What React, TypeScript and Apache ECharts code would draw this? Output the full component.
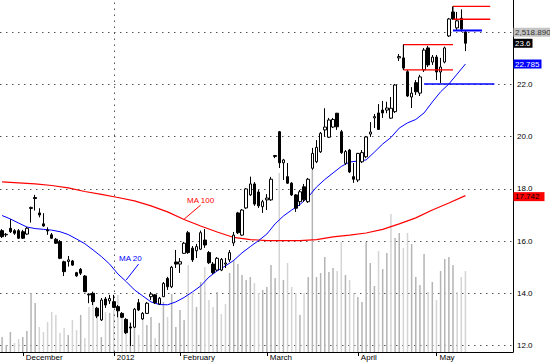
import React, { useEffect, useRef } from "react";
import * as echarts from "echarts";

// ---------- data ----------
const TOTAL_SLOTS = 124; // trading-day slots on the axis (data fills the first 113)
const categories = Array.from({ length: TOTAL_SLOTS }, (_, i) => `d${i}`);

const monthTicks = [
  { index: 5, label: "December" },
  { index: 27, label: "2012" },
  { index: 43, label: "February" },
  { index: 64, label: "March" },
  { index: 86, label: "April" },
  { index: 105, label: "May" },
];

// [open, close, low, high]
const ohlc = [
  [16.40,16.17,16.12,16.46],[16.24,16.26,16.16,16.31],[16.49,16.36,16.31,16.84],[16.40,16.30,16.24,16.46],
  [16.40,16.11,16.08,16.46],[16.36,16.11,16.08,16.43],[16.27,16.49,16.24,16.54],[17.25,17.29,16.71,17.32],
  [17.67,17.63,17.17,17.77],[17.08,17.00,16.91,17.26],[16.66,16.58,16.55,17.07],[16.43,16.39,16.24,16.53],
  [16.24,16.11,16.08,16.31],[16.07,15.92,15.89,16.12],[15.98,15.34,15.31,16.04],[15.21,14.83,14.66,15.25],
  [15.22,15.28,15.02,15.43],[15.24,15.08,15.05,15.28],[14.79,14.67,14.63,14.82],[14.92,14.77,14.70,14.97],
  [14.66,14.06,14.05,14.70],[13.97,13.94,13.62,14.00],[14.00,13.68,13.55,14.06],[13.43,13.13,13.05,13.48],
  [12.98,13.74,12.94,13.82],[13.78,13.55,13.44,13.86],[13.71,13.80,13.59,13.94],[13.68,13.46,13.44,13.94],
  [13.49,13.33,13.08,13.55],[13.23,13.08,13.05,13.28],[13.00,12.49,12.44,13.05],[12.71,12.67,11.98,12.86],
  [12.70,13.39,12.67,13.44],[13.64,13.36,13.32,13.78],[13.02,13.23,12.98,13.28],[13.23,13.62,13.21,13.67],
  [13.87,13.97,13.74,14.05],[13.94,13.64,13.59,13.97],[13.59,13.81,13.55,13.86],[13.87,14.38,13.86,14.43],
  [14.57,14.25,14.13,14.63],[14.25,15.00,14.20,15.05],[15.20,15.12,14.97,15.66],[15.12,15.21,14.78,15.35],
  [15.53,15.92,15.51,15.97],[16.32,15.56,15.51,16.39],[15.73,15.28,15.20,15.81],[15.63,15.79,15.35,15.89],
  [15.69,16.32,15.66,16.40],[16.04,15.85,15.74,16.46],[15.56,15.17,15.12,15.62],[15.12,14.79,14.74,15.20],
  [14.89,15.34,14.85,15.39],[14.89,15.30,14.85,15.35],[15.12,15.16,14.97,15.35],[15.28,15.56,15.20,15.66],
  [15.93,16.23,15.81,16.35],[17.08,16.32,16.27,17.12],[16.23,17.19,16.20,17.23],[17.27,18.00,17.23,18.03],
  [17.77,18.19,17.73,18.47],[18.19,17.42,17.35,18.26],[17.88,17.35,17.27,17.96],[17.32,17.51,17.08,17.58],
  [17.58,17.65,17.19,17.80],[17.58,18.37,17.54,18.46],[19.24,19.28,19.18,19.30],[20.19,19.00,18.80,20.22],
  [19.00,19.11,18.34,19.15],[18.47,18.22,18.19,18.99],[18.22,17.77,17.73,18.26],[17.77,17.26,17.12,17.80],
  [17.51,17.89,17.35,17.96],[18.08,17.58,17.50,18.19],[17.51,18.37,17.46,18.42],[18.79,19.36,18.73,19.57],
  [19.04,19.59,18.99,19.87],[19.42,20.13,19.38,20.18],[20.26,20.37,20.00,21.09],[19.98,20.64,19.95,20.72],
  [20.37,20.66,20.33,20.72],[20.90,20.38,20.26,20.91],[20.19,19.39,19.34,20.26],[18.98,19.43,18.92,19.49],
  [19.49,18.65,18.61,19.53],[18.47,18.37,18.23,18.99],[18.34,19.36,18.26,19.38],[19.04,19.39,18.99,19.49],
  [19.23,19.99,19.18,20.03],[20.10,20.18,19.99,20.56],[20.72,20.77,20.33,20.87],[20.91,20.28,20.26,21.25],
  [21.02,20.91,20.72,21.37],[21.02,21.10,20.90,21.34],[20.71,21.09,20.68,21.52],[20.96,21.98,20.91,22.02],
  [23.02,23.07,22.90,23.17],[23.02,22.63,22.56,23.53],[22.49,21.56,21.52,22.56],[21.52,21.67,21.10,21.90],
  [22.07,21.72,21.60,22.17],[21.67,22.29,21.56,22.37],[22.56,23.32,22.48,23.40],[23.40,22.75,22.67,23.48],
  [22.86,23.05,22.75,23.13],[23.05,22.48,22.17,23.13],[22.48,22.67,22.06,23.02],[22.86,23.40,22.81,23.45],
  [23.86,24.51,23.82,24.55],[24.78,24.51,24.49,24.99],[24.17,24.44,24.09,24.78],[24.54,24.12,24.02,24.88],
  [24.01,23.58,23.28,24.09],
];

// volume, thousands of shares
const volume = [
  150,70,200,90,130,150,210,590,490,250,200,300,400,370,190,240,170,320,220,370,
  140,450,540,440,150,400,390,420,570,350,220,300,300,170,390,270,350,140,290,500,
  350,580,250,420,320,870,590,450,700,850,520,450,600,380,480,790,920,880,770,720,
  750,690,590,620,650,870,740,1790,720,890,650,590,370,590,750,1820,750,790,950,800,
  840,810,1100,770,720,590,550,500,1100,890,660,1010,830,990,1380,1140,1190,1040,1190,1080,
  750,670,980,600,700,520,810,930,950,870,600,750,810,
];

// moving averages, [slot index, value]
const ma20 = [
  [0,16.98],[2,16.85],[4,16.69],[6,16.54],[8,16.48],[10,16.45],[12,16.42],[14,16.36],[16,16.25],[18,16.08],
  [20,15.90],[22,15.66],[24,15.41],[26,15.12],[28,14.74],[30,14.45],[32,14.13],[34,13.90],[36,13.67],[38,13.57],
  [40,13.56],[42,13.67],[44,13.84],[46,14.05],[48,14.28],[50,14.62],[52,14.86],[54,15.05],[56,15.26],[58,15.55],
  [60,15.79],[62,16.02],[64,16.27],[66,16.66],[68,16.96],[70,17.19],[72,17.40],[74,17.69],[76,18.07],[78,18.36],
  [80,18.61],[82,18.86],[84,19.03],[86,19.07],[88,19.11],[90,19.41],[92,19.72],[94,19.97],[96,20.33],[98,20.53],
  [100,20.66],[102,20.91],[104,21.33],[106,21.72],[108,22.02],[110,22.40],[112,22.785],
];
const ma100 = [
  [0,18.27],[4,18.23],[8,18.19],[12,18.13],[16,18.04],[20,17.90],[24,17.79],[28,17.67],[32,17.54],[36,17.35],
  [40,17.12],[44,16.83],[48,16.58],[52,16.35],[56,16.14],[60,16.06],[64,16.02],[68,16.02],[72,16.02],[76,16.06],
  [80,16.16],[84,16.23],[88,16.31],[92,16.45],[96,16.66],[100,16.89],[104,17.19],[108,17.46],[112,17.742],
];

// drawn support / resistance segments: [fromSlot, toSlot, price]
const redLevels = [[97,109,23.53],[97,109,22.56],[109,118,24.99],[109,118,24.50]];
const blueLevels = [[109,116,24.07],[102,119,22.02]];
const blueWidths = [2, 1.5];
const blackVerticals = [[97,23.53,22.56],[109,24.99,24.50]];

const overlayValue = 2518.89;
const overlayLevel = 24.0;
const yearLineSlot = 27;

const FONT = '"Liberation Sans", Arial, sans-serif';

export default function App() {
  const ref = useRef<HTMLDivElement>(null);

  useEffect(() => {
    if (!ref.current) return;
    const chart = echarts.init(ref.current, undefined, { renderer: "svg" });
    const tickSet = new Map(monthTicks.map((m) => [m.index, m.label]));
    const closes = ohlc.map((d) => d[1]);
    const volColors = volume.map((_, i) =>
      i > 0 && closes[i] < closes[i - 1] ? "#d4d4d4" : "#b4b4b4"
    );

    const dotted = [1.5, 4.5];

    chart.setOption({
      animation: false,
      backgroundColor: "#ffffff",
      grid: [
        { left: 0, right: 37, top: 32.3, bottom: 18.5 },
        { left: 0, right: 37, top: 0, bottom: 12 },
      ],
      xAxis: [
        { type: "category", gridIndex: 0, data: categories, show: false, boundaryGap: true },
        {
          type: "category",
          gridIndex: 1,
          data: categories,
          boundaryGap: true,
          axisLine: { show: true, lineStyle: { color: "#000", width: 1 } },
          axisTick: {
            show: true,
            alignWithLabel: true,
            length: 4,
            interval: (i: number) => tickSet.has(i),
            lineStyle: { color: "#000" },
          },
          axisLabel: {
            show: true,
            interval: (i: number) => tickSet.has(i),
            formatter: (_v: string, i: number) => tickSet.get(i) || "",
            align: "left",
            margin: 1,
            padding: [0, 0, 0, 3],
            fontSize: 8,
            fontFamily: FONT,
            color: "#000",
          },
          splitLine: { show: false },
        },
      ],
      yAxis: [
        {
          type: "value",
          gridIndex: 0,
          position: "right",
          min: 12,
          max: 24,
          interval: 2,
          axisLine: { show: false },
          axisTick: { show: false },
          axisLabel: {
            margin: 4,
            fontSize: 8,
            fontFamily: FONT,
            color: "#000",
            formatter: (v: number) => (v === overlayLevel ? "" : v.toFixed(1)),
          },
          splitLine: { show: true, lineStyle: { type: dotted, color: "#555", width: 1 } },
        },
        {
          type: "value",
          gridIndex: 1,
          position: "right",
          min: 0,
          max: 3520,
          axisLine: { show: true, lineStyle: { color: "#000", width: 1 } },
          axisTick: { show: false },
          axisLabel: { show: false },
          splitLine: { show: false },
        },
      ],
      series: [
        {
          type: "bar",
          name: "Volume",
          xAxisIndex: 1,
          yAxisIndex: 1,
          data: volume,
          barWidth: 1.5,
          z: 1,
          itemStyle: { color: (p: any) => volColors[p.dataIndex] },
          markLine: {
            silent: true,
            symbol: "none",
            label: { show: false },
            lineStyle: { type: dotted, color: "#555", width: 1 },
            data: [{ xAxis: yearLineSlot }],
          },
        },
        {
          type: "line",
          name: "MA 100",
          xAxisIndex: 0,
          yAxisIndex: 0,
          data: ma100,
          showSymbol: false,
          clip: false,
          z: 4,
          lineStyle: { color: "#ff0000", width: 1.2 },
        },
        {
          type: "line",
          name: "MA 20",
          xAxisIndex: 0,
          yAxisIndex: 0,
          data: ma20,
          showSymbol: false,
          clip: false,
          z: 4,
          lineStyle: { color: "#0000ff", width: 1 },
        },
        {
          type: "candlestick",
          name: "Price",
          xAxisIndex: 0,
          yAxisIndex: 0,
          data: ohlc,
          barWidth: 3,
          clip: false,
          z: 5,
          itemStyle: {
            color: "#ffffff",
            color0: "#000000",
            borderColor: "#000000",
            borderColor0: "#000000",
            borderWidth: 1,
          },
        },
      ],
    });

    // annotations placed through the chart's own scales
    const yPix = (v: number) => chart.convertToPixel({ yAxisIndex: 0 }, v) as number;
    const pt = (i: number, v: number) => chart.convertToPixel({ gridIndex: 0 }, [i, v]) as number[];
    const lastClose = closes[closes.length - 1];
    const lastMa20 = ma20[ma20.length - 1][1];
    const lastMa100 = ma100[ma100.length - 1][1];

    const graphics: any[] = [];
    const seg = (a: number[], b: number[], color: string, w: number) => {
      graphics.push({
        type: "line",
        shape: { x1: a[0], y1: a[1], x2: b[0], y2: b[1] },
        style: { stroke: color, lineWidth: w },
        z: 60,
      });
    };
    redLevels.forEach(([a, b, p]) => seg(pt(a, p), pt(b, p), "#ff0000", 1.3));
    blueLevels.forEach(([a, b, p], k) => seg(pt(a, p), pt(b, p), "#0000ff", blueWidths[k]));
    blackVerticals.forEach(([a, p1, p2]) => seg(pt(a, p1), pt(a, p2), "#000000", 1));

    const boxes = [
      { v: overlayLevel, text: overlayValue.toLocaleString("en-US", { minimumFractionDigits: 3 }), bg: "#c4c4c4", fg: "#333333", w: 40, dy: 0 },
      { v: lastClose, text: lastClose.toFixed(1), bg: "#000000", fg: "#ffffff", w: 19, dy: 0 },
      { v: lastMa20, text: lastMa20.toFixed(3), bg: "#0000ff", fg: "#ffffff", w: 28, dy: 0 },
      { v: lastMa100, text: lastMa100.toFixed(3), bg: "#ff0000", fg: "#000000", w: 31, dy: 1 },
    ];
    boxes.forEach((b) => {
      const y = yPix(b.v) + b.dy;
      graphics.push({
        type: "rect",
        shape: { x: 513.5, y: y - 4.5, width: b.w, height: 9 },
        style: { fill: b.bg },
        z: 100,
      });
      graphics.push({
        type: "text",
        x: 515,
        y: y,
        style: { text: b.text, fill: b.fg, font: `8px ${FONT}`, verticalAlign: "middle", textVerticalAlign: "middle" },
        z: 101,
      });
    });

    const captions = [
      { text: "MA 20", color: "#0000ff", at: [31, 15.32], from: [33.1, 15.12], to: [29.9, 14.51] },
      { text: "MA 100", color: "#ff0000", at: [48, 17.54], from: [47.7, 17.38], to: [43.9, 16.84] },
    ];
    captions.forEach((c) => {
      const p = pt(c.at[0], c.at[1]);
      graphics.push({
        type: "text",
        x: p[0],
        y: p[1],
        style: { text: c.text, fill: c.color, font: `8px ${FONT}`, align: "center", textAlign: "center", verticalAlign: "middle", textVerticalAlign: "middle" },
        z: 50,
      });
      seg(pt(c.from[0], c.from[1]), pt(c.to[0], c.to[1]), c.color, 1);
    });

    chart.setOption({ graphic: graphics });

    return () => chart.dispose();
  }, []);

  return (
    <div
      ref={ref}
      style={{ position: "absolute", left: 0, top: 0, width: 550, height: 364, background: "#fff" }}
    />
  );
}
